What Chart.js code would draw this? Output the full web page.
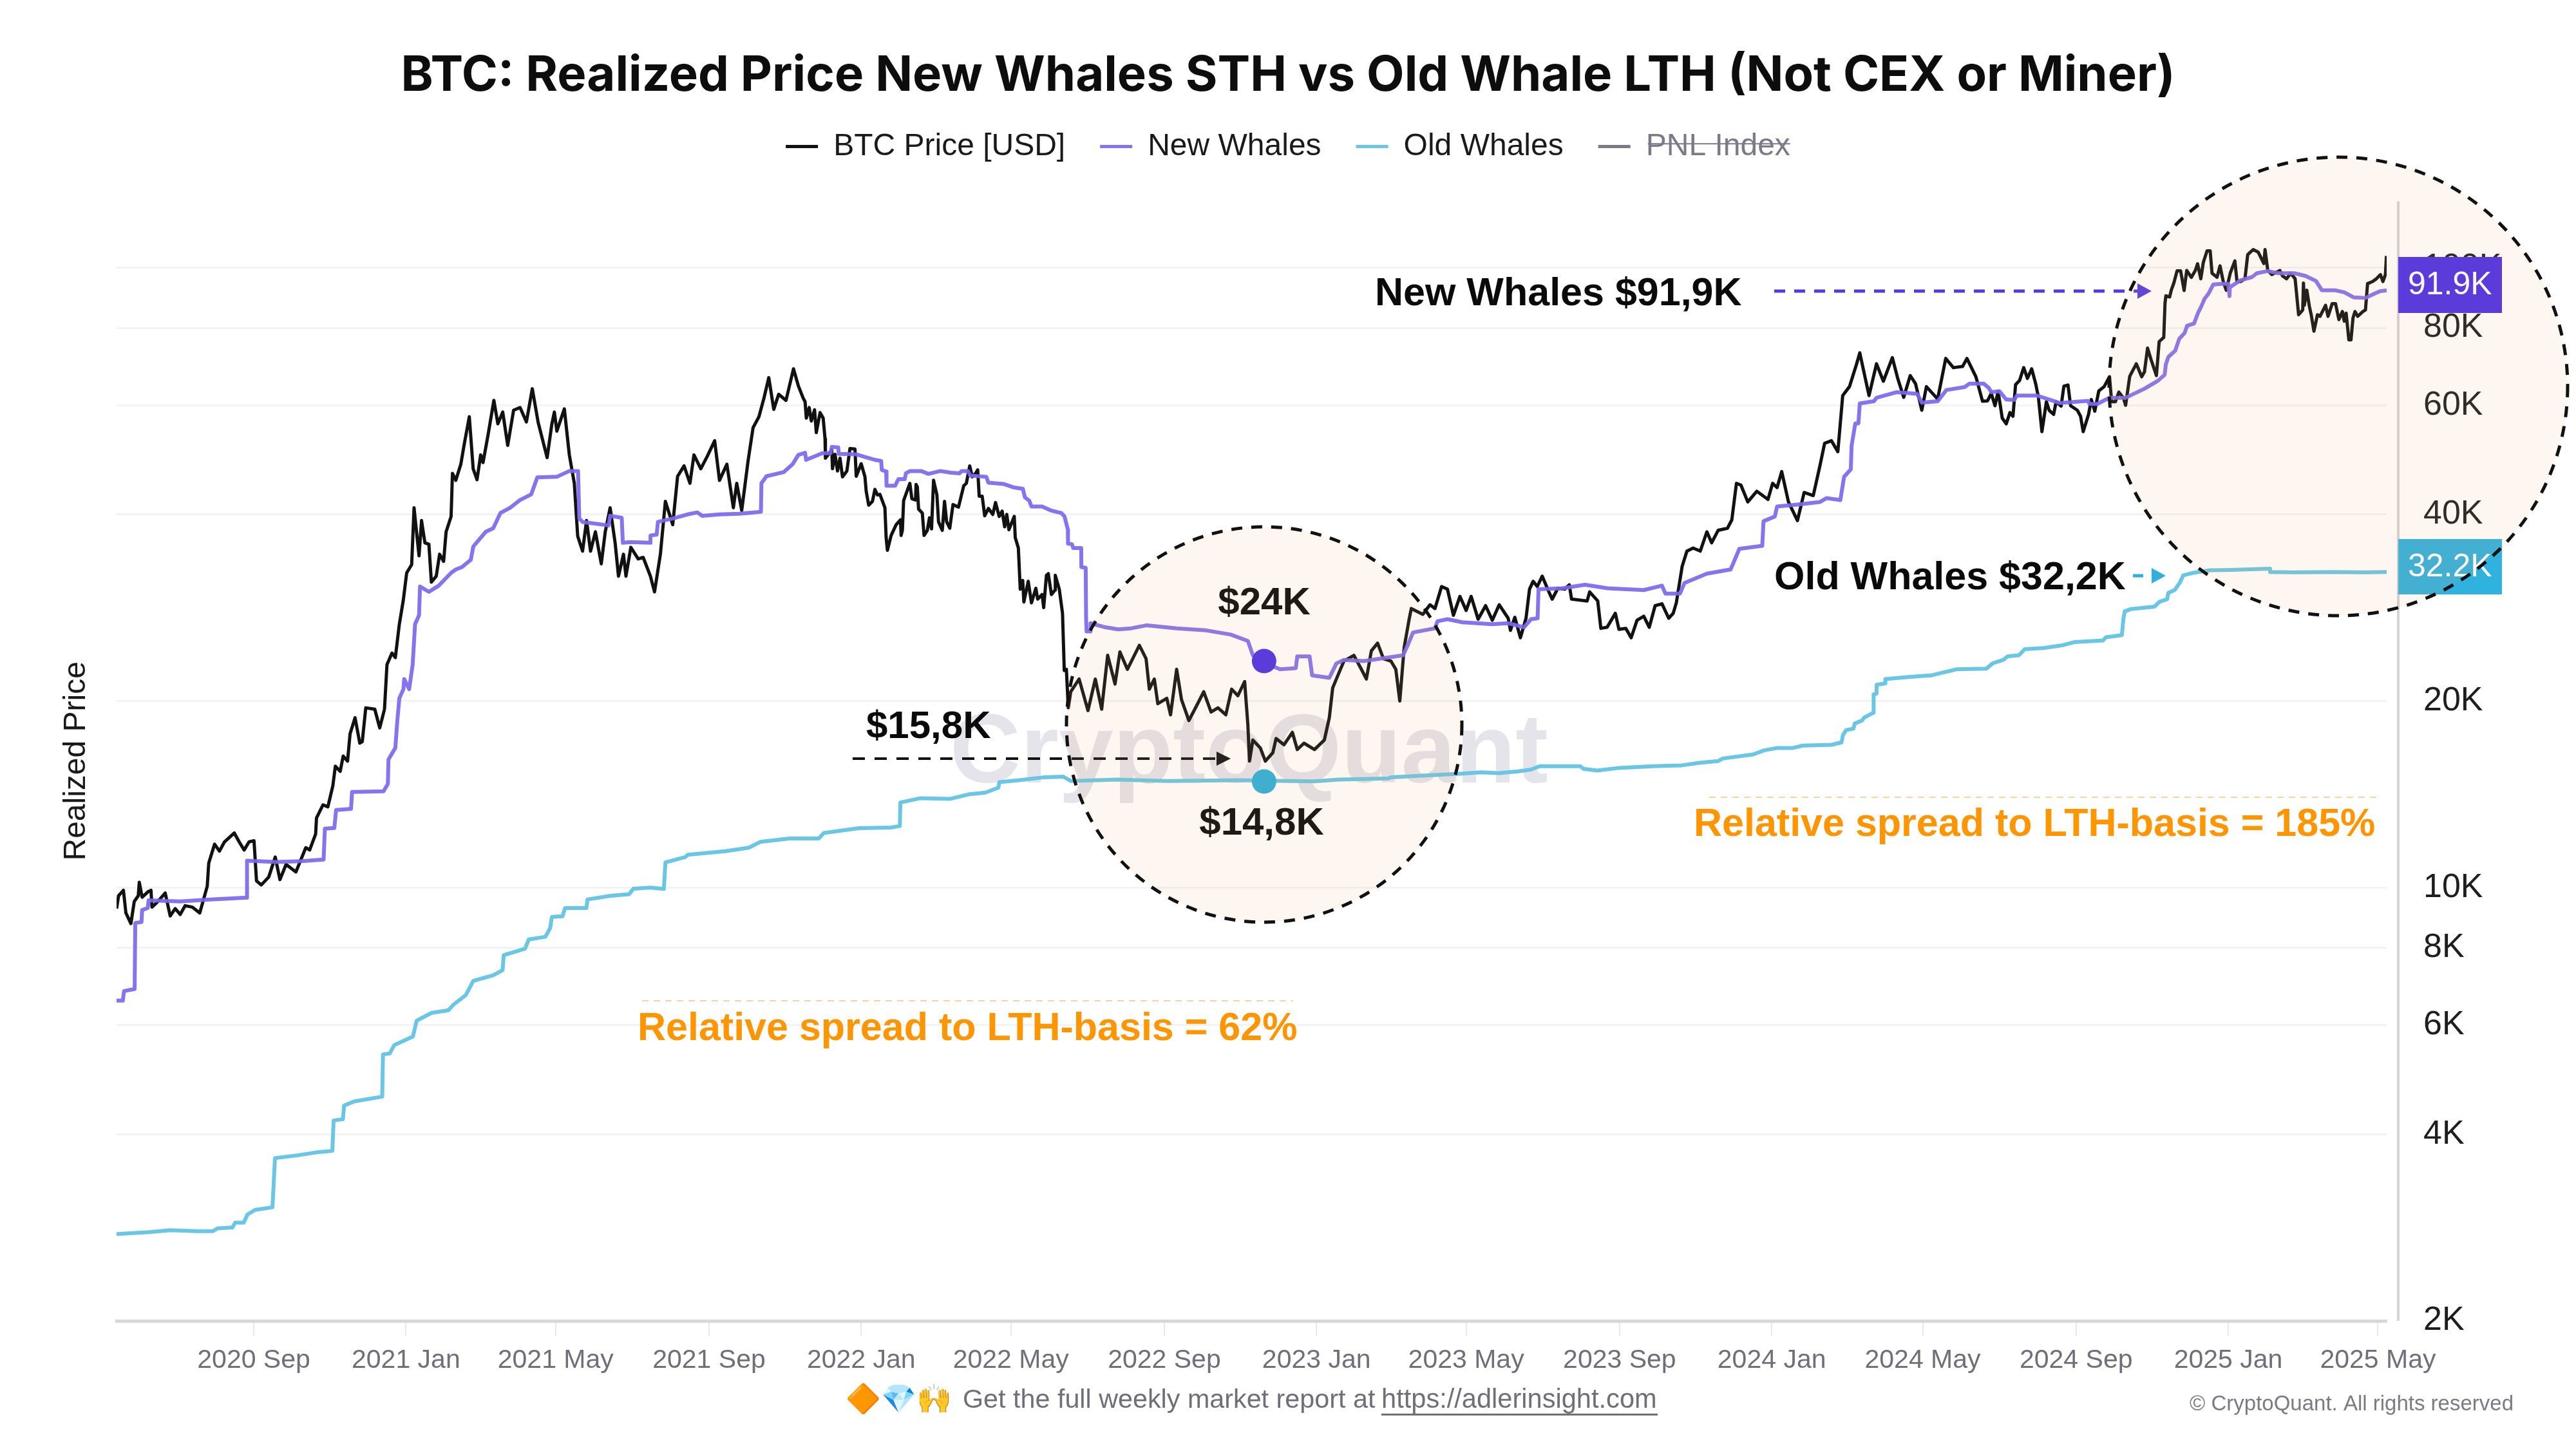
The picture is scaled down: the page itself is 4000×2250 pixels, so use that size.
<!DOCTYPE html>
<html>
<head>
<meta charset="utf-8">
<title>BTC: Realized Price New Whales STH vs Old Whale LTH</title>
<script src="https://cdn.jsdelivr.net/npm/chart.js@4"></script>
<style>
  html, body { margin: 0; padding: 0; background: #fff; }
  canvas { display: block; }
</style>
</head>
<body>
<canvas id="chart" width="4000" height="2250"></canvas>
<script>
// x values are days counted from the first day on the chart (2020-05-14)
const tickDays = [110, 232, 352, 475, 597, 717, 840, 962, 1082, 1205, 1327, 1448, 1571, 1693, 1813];
const tickLabels = ["2020 Sep", "2021 Jan", "2021 May", "2021 Sep", "2022 Jan", "2022 May", "2022 Sep", "2023 Jan", "2023 May", "2023 Sep", "2024 Jan", "2024 May", "2024 Sep", "2025 Jan", "2025 May"];
const priceTicks = [2000, 4000, 6000, 8000, 10000, 20000, 40000, 60000, 80000, 100000];

const btcDays = [0,1.6,5.5,7.5,11.5,14.2,17.4,18.2,20.5,25.3,27.6,28.4,33.2,39,43,47,51,55,60.8,66.7,72.7,73.9,78.6,82.5,86.5,94.4,98.3,102.3,106.2,110.2,112.2,116,122,127.2,131,135.9,143.8,151.7,154.8,159.6,160.3,165.5,169.4,173.4,175.4,179.3,181.7,185.2,187.2,191.2,195,197,199.8,207,211,214.8,216.8,220.8,223.5,226.7,229.9,232.6,236.6,238.5,242.5,244.5,247.2,250.4,252.4,256.3,259,262.2,264.2,268.2,269.3,272,276,278.8,282.8,285.9,289,291.9,293.8,297.8,302.5,305.7,309.6,313.6,318.3,323.5,328.6,333.3,338,345.2,349,351,353,359,363,367,369.7,373.6,376.8,380,383.9,388.6,391.8,395.7,399.7,402.4,406.4,408.4,412.3,418.2,422.2,428,431.3,436,440,445.9,449.8,455,459.7,462.9,468.4,473.5,479.5,483.4,489.3,494.5,497.2,501.2,506.3,510.3,515,519,522.9,526.9,530.8,536.7,542.7,546.6,550.5,
  552,553,555.3,557,559.6,561,564,566.5,568,568.3,573.4,574,576,578,580,582,585.5,588,592,593,597,600,601,603,606,608,610,612,616,617,618,621,625,628.5,629,630,631,636,637.6,640.5,641,642,643,646,647.4,650,651.7,653.4,655,657.7,659,662,663.8,665.5,668,670.6,675,679.2,681.3,684,686,688.7,690.4,691.6,694,696,699,702.5,704.7,707.6,710,712,713.7,715.4,719.7,720.5,723,724.5,726.5,727.4,730.9,733.5,737,738.5,742,743.3,745.5,747,749.5,752.4,752.6,755.8,758.4,759.8,761.5,763,765,771.7,778.8,784.7,789.8,794.6,800.5,804.4,810.4,820,825.4,828,832,834.8,842,845,849.9,853.8,859.7,865.6,871.6,877.5,883,889.3,894,899,904.4,907,908.3,911,917,921,927,929.6,936,942.7,946.6,952,960.4,968.3,972.3,975,980,984,992,998,1002,1006,1011,1015.7,1021.7,1025.6,1028.8,1032.3,1036.3,1038,1047.3,1053,1057,1062.3,1067,1071.8,1077,1082,1086,1091.6,1097.6,1103,1108.5,1115.7,1117.5,1121,1125.5,1130,1132.8,1135.7,1139,1143,1148.3,1151,1155.5,1161,1164.7,1166.5,1179,1181,1187.5,1190,1195,1201.6,1204.5,1210,1214.3,1219,1224.4,1228.8,1233.5,1239,1244.4,1248,1250.5,1255.2,1259,1264,1269.7,1275,1278.8,1284,1291.5,1295,1298.7,1302.3,1307.8,1315,1324,1327.7,1331.3,1335,1340.4,1347.6,1353,1360.3,1365.7,1369.4,1374.8,1380,1383.9,1389.3,1394.7,1397.6,1402,1405,1411,1416.5,1423.7,1428,1432.8,1438,1442.3,1447.3,1451,1460,1466.5,1472.6,1480,1483.5,1490.7,1496,
  1500,1503,1506,1508.5,1511.8,1515,1518,1520.4,1522.5,1525.7,1529,1532,1535.4,1538.6,1540.8,1543.6,1547.2,1549.4,1553,1555,1559,1561.2,1564.5,1566.6,1572,1574.6,1576.7,1581,1583.2,1586,1589.2,1593.5,1597.8,1599.5,1602.5,1605.3,1609,1610.7,1614,1619.3,1623.6,1625.8,1628.3,1631,1635.4,1637.6,1641.3,1642.3,1643,1646,1647.3,1649.4,1652,1654.8,1657.6,1659.7,1663.4,1666.6,1668.4,1671,1673,1676,1678.5,1680,1684,1686.4,1689,1691.4,1694.6,1698.3,1700,1703,1706.4,1708.6,1713,1717,1721.5,1722.5,1724.7,1728,1734.4,1736.5,1739.8,1743,1746.6,1749.4,1752.7,1753.3,1754,1756,1758,1759.5,1761.7,1764.5,1766.6,1771,1773,1776.3,1779,1781.7,1784.5,1786,1787.5,1789.7,1791.4,1793,1794.6,1796.8,1801,1803,1804.7,1808.6,1811.8,1815,1817,1819,1819.8];
const btcPrices = [9250,9700,9900,9100,8750,9500,9700,10200,9650,9850,9900,9300,9500,9800,9000,9250,9050,9350,9300,9100,10050,10950,11750,11450,11850,12250,11850,11500,11850,11900,10250,10100,10400,11200,10300,10900,10600,11600,11500,12200,12950,13600,13500,14600,15700,15400,16300,16000,17700,18800,17100,17200,19500,19400,18100,19400,22900,23900,23500,26600,29100,32200,33200,41000,34300,39100,36000,35800,31100,31800,34500,33600,37500,39700,46600,45400,48200,52000,57500,47400,45500,49900,48500,53700,61100,56000,58500,51700,58900,59500,56400,63800,56300,49400,56000,58500,54500,59200,49900,44900,36900,34900,39100,34900,37500,33300,37500,41000,36000,31800,34500,31800,35400,33900,34100,31800,30000,34500,42000,38500,46100,47900,44900,49900,47400,49600,52600,45400,48200,41000,44900,40600,48800,55200,57500,61600,66500,59100,62500,61100,68700,64500,61600,
  60800,57200,59500,56600,59000,54200,58400,57200,53000,49300,50800,47400,50000,47000,49300,46000,47000,51100,51000,46100,48300,46000,43600,41400,42000,43900,43000,43100,41000,36700,35000,37000,38500,39200,37000,37700,42100,44900,42400,42200,44700,44300,40800,40200,37000,37700,39500,37900,45400,43000,38900,37700,42000,38900,38000,41500,41100,44500,44900,47900,46000,46600,47200,42800,42800,39800,40900,40000,41800,39700,40500,38200,40000,37800,39700,36700,35300,30300,31300,28900,31200,28800,30400,29200,29700,28300,31900,32100,29700,30200,31900,30300,27700,22400,22500,19500,20700,21700,19300,21700,19400,23700,21300,24000,22500,24600,23400,20900,21700,19800,20200,19000,22500,20100,18600,19600,20700,19200,19500,19000,20900,20400,21500,18300,16000,17300,16800,16000,16500,17400,17000,17800,16700,17100,16700,17300,18800,21000,22200,23200,23700,22500,21700,24100,24800,23400,23200,22500,20000,24400,27100,28200,27600,28600,28200,30600,30300,27500,29500,28000,29500,27100,28500,27000,28600,27200,26000,27300,25300,27200,30300,31200,30600,31800,30000,29200,30400,30300,30800,29200,29000,30000,29000,26200,26300,27700,26100,26200,25300,27000,27400,26300,28500,28700,27200,27700,28800,33000,34900,35300,34900,37500,36000,37700,38000,39200,44900,44600,41900,43600,42300,44900,44200,46900,41900,39100,43400,42900,48000,52100,52600,50500,62200,64300,69600,72900,66300,62200,70000,65600,71600,66300,61800,67000,65000,58900,64300,61400,71400,69000,69300,71400,66700,60900,
  61000,62700,59900,63200,57200,56000,58400,57600,64800,65800,69000,66300,68700,65000,61800,54400,60800,58900,58000,60800,59800,64400,64700,59900,58900,57600,54400,58000,61300,58700,63300,64300,66700,60800,60800,63000,61600,60000,66800,70000,66700,67900,74200,71200,67000,76000,77200,87700,90100,89700,92000,94500,98900,98900,91900,99000,96500,99000,101500,96000,102000,106500,106500,98000,96500,100700,95000,92000,98000,102600,95000,95000,96000,105000,107000,106000,101600,107000,99000,97500,99000,97000,96000,98000,96000,84000,85500,94500,87000,92000,86700,84000,79000,84000,83500,87000,83500,87500,87500,82500,85000,82000,84500,76500,76500,83000,85000,83500,85000,85500,94300,95000,96000,97500,95000,97500,104500];

const newWhaleDays = [0,5,6,14.5,15,20,20.5,25,25.7,51,75,103,104.5,104.6,128,148,166,167,174.6,176,188,188.8,214,217.5,218,223.5,225,226.7,230,230.6,234.6,237.4,239.3,242.5,243.3,250.4,258.3,268.2,272,277,284,286,296,302,307.7,315.6,323.5,332.5,337.3,353,363,370,371,373.6,394.5,395.7,405,405.9,412,428,428.1,433,434,446,457.7,465.6,469.6,483.4,499,511,516.6,517,521,534.8,542,546.6,552,552.8,560.5,565.7,572.5,573.4,578.6,579,593.2,601.8,607.8,613,613.5,617,617.3,624.2,626.8,632,632.8,636.2,645,651,660.3,669,675.8,677.5,682.7,684.4,697.3,699,711,719.7,726.6,728.3,731.7,733.5,742,749,757.5,760,762.7,762.8,766,767,773.4,773.5,777,777.3,777.7,780.8,780.9,792.8,803,813.5,826,850,873.6,893.3,907,911,919,932.8,945.4,946.6,956.5,958.5,972.3,978,984,1000,1031.5,1035.5,1039.4,1057,1059,1067,1079,1102.6,1115.7,1128.4,1134,1139.3,1140,1159,1177.3,1195.4,1224.4,1239,1241.8,1253.4,1257,1275,1294,1296,1301,1319.4,1320.4,1329.5,1331.3,1347.6,1365.7,1371,1382,1385,1390.4,1391,1394,1396.5,1397.6,1409,1411,1427.3,1443.6,1447.3,1460,1467,1481.7,1485.3,
  1497,1501,1503,1509.6,1515,1521.4,1523.6,1539.7,1552.6,1558,1580.6,1581.7,1588,1597.8,1610.7,1625.8,1636.5,1642,1643,1645,1650.5,1653.7,1658,1660,1665.6,1668.8,1671,1674,1677.4,1681,1688,1693,1694,1694.2,1703,1712,1716,1724.7,1733,1746,1755,1763.4,1768,1778.5,1786,1793.5,1803,1811,1815,1820];
const newWhalePrices = [6570,6570,6810,6860,8770,8800,9200,9270,9540,9500,9570,9630,9630,11050,11000,11030,11100,12450,12480,13340,13400,14270,14300,14700,16100,16800,18500,20200,20900,21700,20900,22900,26600,27500,30600,30000,30700,32200,32600,32900,33800,35500,37500,38000,40200,41000,42200,43100,45900,46000,47000,47000,39400,38900,38400,39800,39500,36000,36100,36000,37000,37100,38900,39400,40000,40300,39800,40000,40100,40300,40400,44900,46100,46800,48200,49900,50300,49000,49700,50200,50200,51400,51300,50100,50000,49400,49000,48800,47200,46900,44500,44500,45600,45600,46600,47000,47000,46500,47000,46700,46600,47000,47000,46200,46000,45000,44800,44200,44000,42600,42100,41200,41200,40600,40200,39700,37800,35900,35800,35300,35300,32900,32800,27200,25900,25900,26700,26300,26100,26200,26500,26200,26000,25600,25000,23700,23100,22500,22600,23600,23600,22000,21800,23000,23300,23200,23700,24700,25800,26200,26900,27100,26800,26600,26700,26300,27100,27200,30300,30400,30800,30400,30200,30700,29800,29800,31000,32100,32600,33300,35200,35600,39000,39700,41200,41500,41900,42500,42200,46000,47300,51600,56100,56100,60400,60900,61700,63000,62600,60600,60900,63500,64200,65000,
  65000,64000,63000,63200,61300,61200,62200,62200,61000,60500,61000,60300,60300,61700,61700,63800,65700,67200,69900,71800,73500,76800,78500,80600,81300,84600,86300,89100,91000,94000,94200,94200,90000,93000,95500,96600,98000,98800,98000,98000,97000,95200,92000,92000,91300,89600,89400,91000,91700,91900];

const oldWhaleDays = [0,26,43,64,77,81,93,95,102,105,111,125,127,145.5,160.5,173,174,181.5,182.4,190.5,213,213.6,219,222.6,237.6,240.6,252.6,266,270,280,286,302,309.5,310.4,327.5,330.5,343.8,347.6,349,357.5,359.6,376.7,377.6,396,411,414.4,428,438.8,440,456,458,488,507,516,539.4,563,567,595,620.7,628,628.4,644.5,668,684,696.6,707,707.7,723.5,743,759,765,802.5,842,901,921,960.4,980,1019.7,1021.7,1051,1079,
  1094,1108,1124,1134,1141,1154,1173.5,1176,1187,1204.6,1232,1255,1269,1284,1287.6,1312,1321,1331.4,1344,1352,1375,1383,1384,1386.7,1392.5,1393.6,1399.4,1401,1408.6,1408.7,1411,1411.1,1418,1418.1,1435,1446.6,1455,1475,1499,1504,1512.6,1516,1525,1530,1545,1560,1570,1592.6,1595,1607.7,1609,1610,1615,1634,1637.7,1644,1645,1650,1654,1657,1665,1678,1695,1726.5,1726.6,1745,1777,1800,1820];
const oldWhalePrices = [2760,2780,2800,2790,2790,2820,2830,2880,2880,2970,3020,3050,3660,3700,3740,3760,4210,4230,4450,4520,4600,5380,5400,5570,5750,6100,6280,6340,6470,6710,7070,7220,7360,7780,7970,8250,8330,8600,8970,8990,9270,9270,9570,9700,9760,9960,10000,9950,10980,11200,11300,11450,11600,11850,12000,12000,12250,12470,12500,12570,13720,13940,13900,14150,14230,14500,14800,14900,15060,15100,14860,14940,14860,14900,14880,14840,14940,15000,15060,15170,15270,
  15350,15300,15400,15500,15700,15700,15700,15550,15450,15600,15700,15750,15900,16000,16150,16400,16650,16800,16800,16950,17000,17150,17600,17950,18050,18400,18600,18800,19150,20500,20550,21250,21350,21700,21850,21950,22000,22500,22550,23000,23300,23600,23700,24250,24350,24600,24900,25050,25350,25550,27200,27900,28150,28400,28900,29200,29900,30200,31000,31900,32200,32500,32550,32700,32300,32250,32300,32250,32300];

const bearLowDay = [920];
const newWhaleLow = [23200];
const oldWhaleLow = [14830];

const COLOR_BTC = "#111111";
const COLOR_NEW = "rgba(122,104,236,0.92)";
const COLOR_OLD = "#6ac6e3";
const COLOR_PNL = "#7b7b87";
const SANS = "'Liberation Sans', Arial, sans-serif";

function toPoints(xs, ys) {
  return xs.map((x, i) => ({ x: x, y: ys[i] }));
}

function drawText(ctx, str, x, y, font, color, align) {
  ctx.font = font;
  ctx.fillStyle = color;
  ctx.textAlign = align || "left";
  ctx.textBaseline = "middle";
  ctx.fillText(str, x, y);
}

function dashedArrow(ctx, x1, x2, y, headLen, headHalf, color, width, dash) {
  ctx.save();
  ctx.strokeStyle = color;
  ctx.lineWidth = width;
  ctx.setLineDash(dash);
  ctx.beginPath();
  ctx.moveTo(x1, y);
  ctx.lineTo(x2 - headLen, y);
  ctx.stroke();
  ctx.setLineDash([]);
  ctx.fillStyle = color;
  ctx.beginPath();
  ctx.moveTo(x2, y);
  ctx.lineTo(x2 - headLen, y - headHalf);
  ctx.lineTo(x2 - headLen, y + headHalf);
  ctx.closePath();
  ctx.fill();
  ctx.restore();
}

function thinDash(ctx, x1, x2, y) {
  ctx.save();
  ctx.strokeStyle = "#f3d6a2";
  ctx.lineWidth = 2;
  ctx.setLineDash([10, 8]);
  ctx.beginPath();
  ctx.moveTo(x1, y);
  ctx.lineTo(x2, y);
  ctx.stroke();
  ctx.restore();
}

function circle(ctx, cx, cy, r) {
  ctx.save();
  ctx.beginPath();
  ctx.arc(cx, cy, r, 0, Math.PI * 2);
  ctx.fillStyle = "rgba(245,165,105,0.1)";
  ctx.fill();
  ctx.strokeStyle = "#111";
  ctx.lineWidth = 5;
  ctx.setLineDash([17, 14]);
  ctx.stroke();
  ctx.restore();
}

function valueBox(ctx, y, h, color, label) {
  ctx.fillStyle = color;
  ctx.fillRect(3724, y, 161, h);
  drawText(ctx, label, 3739, y + h / 2 + 1, "50px " + SANS, "#fff");
}

// keeps the plot top where it belongs under the title and legend
const legendHeight = {
  id: "legendHeight",
  beforeInit(chart) {
    const fit = chart.legend.fit;
    chart.legend.fit = function () {
      fit.call(this);
      this.height = 163;
    };
  }
};

const watermark = {
  id: "watermark",
  beforeDatasetsDraw(chart) {
    const ctx = chart.ctx;
    ctx.save();
    drawText(ctx, "CryptoQuant", 1475, 1173, "bold 152px " + SANS, "#e4e4ea");
    ctx.restore();
  }
};

const annotations = {
  id: "annotations",
  afterDraw(chart) {
    const ctx = chart.ctx;
    const area = chart.chartArea;
    ctx.save();

    // right axis line, runs a little outside the plot
    ctx.fillStyle = "#d3d3d8";
    ctx.fillRect(3722, area.top, 4, area.bottom - area.top);

    valueBox(ctx, 399, 87, "#4a30e8", "91.9K");
    valueBox(ctx, 837, 86, "#2fb2de", "32.2K");

    drawText(ctx, "New Whales $91,9K", 2135, 457, "bold 61px " + SANS, "#0a0a0a");
    dashedArrow(ctx, 2755, 3341, 452, 22, 12, "#553adf", 5, [17, 14]);
    drawText(ctx, "Old Whales $32,2K", 2755, 898, "bold 61px " + SANS, "#0a0a0a");
    dashedArrow(ctx, 3312, 3363, 894, 22, 12, "#2fb0de", 5, [16, 13]);

    drawText(ctx, "$24K", 1963, 937, "bold 60px " + SANS, "#0a0a0a", "center");
    drawText(ctx, "$15,8K", 1345, 1129, "bold 60px " + SANS, "#0a0a0a");
    drawText(ctx, "$14,8K", 1959, 1279, "bold 60px " + SANS, "#0a0a0a", "center");
    dashedArrow(ctx, 1324, 1911, 1178, 22, 11, "#111", 4, [19, 15]);

    thinDash(ctx, 997, 2008, 1554);
    drawText(ctx, "Relative spread to LTH-basis = 62%", 990, 1598, "bold 61px " + SANS, "#ff9500");
    thinDash(ctx, 2654, 3692, 1238);
    drawText(ctx, "Relative spread to LTH-basis = 185%", 2630, 1281, "bold 61px " + SANS, "#ff9500");

    drawText(ctx, "🔶💎🙌", 1313, 2175, "44px " + SANS, "#6f6f78");
    drawText(ctx, "Get the full weekly market report at", 1495, 2175, "41.3px " + SANS, "#6f6f78");
    drawText(ctx, "https://adlerinsight.com", 2145, 2175, "41.6px " + SANS, "#6f6f78");
    ctx.fillStyle = "#6f6f78";
    ctx.fillRect(2145, 2195, 429, 3);
    drawText(ctx, "© CryptoQuant. All rights reserved", 3400, 2181, "33px " + SANS, "#7b7b84");

    circle(ctx, 1963, 1125, 307);
    circle(ctx, 3631, 600, 356);
    ctx.restore();
  }
};

Chart.defaults.font.family = SANS;

new Chart(document.getElementById("chart").getContext("2d"), {
  type: "line",
  data: {
    datasets: [
      { label: "BTC Price [USD]", data: toPoints(btcDays, btcPrices), borderColor: COLOR_BTC, borderWidth: 5, order: 1 },
      { label: "New Whales", data: toPoints(newWhaleDays, newWhalePrices), borderColor: COLOR_NEW, borderWidth: 6, order: 0 },
      { label: "Old Whales", data: toPoints(oldWhaleDays, oldWhalePrices), borderColor: COLOR_OLD, borderWidth: 6, order: 2 },
      { label: "PNL Index", data: [], borderColor: COLOR_PNL, borderWidth: 5, hidden: true, order: 3 },
      { label: "", data: toPoints(bearLowDay, newWhaleLow), showLine: false, pointRadius: 19, pointBackgroundColor: "#4a30e8", pointBorderWidth: 0, order: -1 },
      { label: "", data: toPoints(bearLowDay, oldWhaleLow), showLine: false, pointRadius: 19, pointBackgroundColor: "#2cafda", pointBorderWidth: 0, order: -1 }
    ]
  },
  options: {
    responsive: false,
    devicePixelRatio: 1,
    animation: false,
    elements: { point: { radius: 0 }, line: { tension: 0, borderJoinStyle: "round" } },
    plugins: {
      title: {
        display: true,
        text: "BTC: Realized Price New Whales STH vs Old Whale LTH (Not CEX or Miner)",
        color: "#0d0d0d",
        font: { family: "Inter", size: 76, weight: "700", lineHeight: 0.6 },
        padding: { top: 95, bottom: 9 }
      },
      legend: {
        display: true,
        position: "top",
        labels: {
          color: "#1a1a1a",
          font: { size: 48 },
          boxWidth: 50,
          boxHeight: 5,
          padding: 54,
          filter: item => item.text !== "",
          generateLabels(chart) {
            const items = Chart.defaults.plugins.legend.labels.generateLabels(chart);
            items.sort((a, b) => a.datasetIndex - b.datasetIndex);
            items.forEach(item => {
              item.fillStyle = item.strokeStyle;
              item.lineWidth = 0;
              item.fontColor = item.hidden ? COLOR_PNL : "#1a1a1a";
            });
            return items;
          }
        }
      },
      tooltip: { enabled: false }
    },
    scales: {
      x: {
        type: "linear",
        min: 0,
        max: 1820,
        afterBuildTicks(scale) { scale.ticks = tickDays.map(d => ({ value: d })); },
        afterFit(scale) { scale.height = 199; },
        border: { color: "#d8d8dc", width: 5 },
        grid: { drawOnChartArea: false, drawTicks: true, tickLength: 23, color: "#e8e8ec", lineWidth: 2 },
        ticks: {
          autoSkip: false,
          maxRotation: 0,
          padding: 14,
          color: "#6f6f7a",
          font: { size: 41 },
          callback: value => tickLabels[tickDays.indexOf(value)]
        }
      },
      y: {
        type: "logarithmic",
        position: "right",
        min: 2000,
        max: 128000,
        afterBuildTicks(scale) { scale.ticks = priceTicks.map(v => ({ value: v })); },
        afterFit(scale) { scale.width = 294; },
        border: { display: false },
        grid: { drawTicks: false, color: "#f3f3f3", lineWidth: 3 },
        ticks: {
          padding: 57,
          color: "#1e1e1e",
          font: { size: 52 },
          callback: value => (value / 1000) + "K"
        }
      },
      // empty left axis, only holds the axis title and the left margin
      yLeft: {
        type: "linear",
        position: "left",
        afterFit(scale) { scale.width = 181; },
        border: { display: false },
        grid: { display: false },
        ticks: { display: false },
        title: {
          display: true,
          text: "Realized Price",
          color: "#1a1a1a",
          font: { size: 48 },
          padding: { top: 90, bottom: 0 }
        }
      }
    }
  },
  plugins: [legendHeight, watermark, annotations]
});
</script>
</body>
</html>
